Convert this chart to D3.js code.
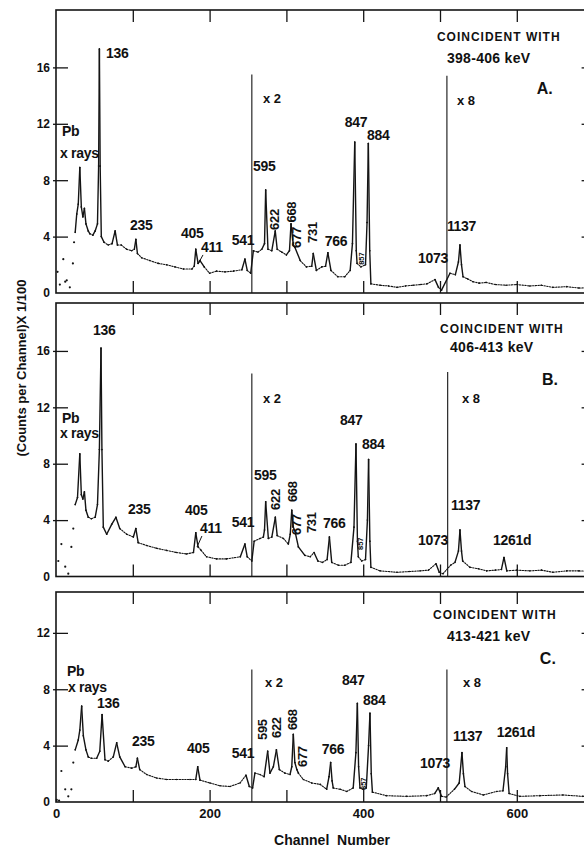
<!DOCTYPE html>
<html><head><meta charset="utf-8">
<script src="https://cdn.jsdelivr.net/npm/d3@7"></script>
<style>
html,body{margin:0;padding:0;background:#fff;}
svg{display:block;}
text{font-family:"Liberation Sans",Arial,sans-serif;fill:#111;}
</style></head><body>
<svg id="chart" width="584" height="848"></svg>
<script>
// ---------- data (channel, counts/100) ----------
const spectrumA = [
[2,1.5],[5,0.6],[9.5,2.4],[12,0.8],[14,0.9],[18,0.4],[22,2.1],[23.5,3.6],[25,4.3],[27,5.6],[29,6.3],[31,8.9],[33,6.1],[35,5.4],[37,6.0],[39,4.9],[42,4.4],[44,4.2],[48,4.1],[51,4.4],[54,4.9],[55.5,9],[56.5,17.3],[57.5,9],[59,4.0],[62.5,3.6],[68,3.4],[73,3.5],[77,4.4],[80,3.4],[85,3.4],[92,3.1],[98.5,3.0],[102,3.1],[104,3.8],[106,2.8],[111.5,2.5],[122,2.3],[133,2.1],[144,2.0],[155,1.85],[166,1.7],[177,1.7],[180,1.9],[182,3.1],[185,2.1],[187.5,2.3],[193,1.85],[200,1.4],[209,1.55],[220,1.5],[231,1.55],[242,1.65],[246,2.4],[249,1.6],[253.5,1.4],
[257,3.0],[263,2.9],[268,3.1],[271.5,3.5],[273,7.3],[276,3.1],[281,3.0],[285.5,4.4],[288,3.1],[294,2.9],[300,2.7],[304,3.0],[306,4.9],[309,3.4],[311,3.25],[318,2.3],[326,1.85],[333,1.9],[335,2.8],[339,1.6],[346,1.85],[351,1.9],[354,2.85],[358,1.6],[367,1.15],[376,1.15],[383,1.6],[386,3.5],[389,10.7],[391,3.0],[392,2.1],[397,1.85],[403,2.0],[405,5],[406.7,10.6],[408.5,3],[410,0.65],[422,0.55],[433,0.5],[444,0.4],[455,0.5],[465,0.55],[475,0.6],[483,0.65],[493.5,0.95],[498,0.4],[502,0.2],
[513,1.4],[520,1.3],[524,2.2],[526,3.4],[528,2.0],[530,1.15],[536,1.0],[543,0.8],[551,0.7],[560,0.75],[572,0.6],[586,0.55],[600,0.6],[617,0.5],[632,0.55],[647,0.4],[665,0.45],[681,0.35],[700,0.4]
];
const spectrumB = [
[3,1.1],[7,2.3],[12,0.7],[16,0.2],[20,2.1],[22.5,3.4],[25,5.1],[28,5.6],[31,8.7],[33,5.8],[35,5.5],[37,6.0],[39,4.7],[42,4.2],[46,4.1],[51,4.2],[54,5.1],[56.5,9],[58.6,16.2],[59.8,9],[61.6,3.5],[66,3.0],[72.5,3.7],[78,4.2],[83,3.4],[92,3.0],[100.7,2.8],[104,3.4],[107,2.4],[118,2.2],[131,2.0],[144,1.85],[157,1.7],[170,1.6],[179,1.7],[182,3.1],[185,2.1],[189,1.85],[196,1.4],[209,1.25],[222,1.25],[240,1.4],[246,2.3],[249,1.4],[255,1.1],
[258,2.5],[265.6,2.7],[270,2.8],[271.5,3.3],[273,5.3],[276.5,2.7],[281,2.8],[285.6,4.2],[288,2.9],[296,2.7],[302.5,2.3],[305,3],[307,4.7],[309,3.5],[311,3.25],[315.6,2.1],[324,1.5],[331,1.4],[336,1.7],[341,1.1],[347,1.0],[353,1.2],[356,2.8],[359,1.0],[367.7,0.8],[376,0.8],[384,1.0],[388,3.5],[390.6,9.4],[392.5,2.5],[393.6,1.4],[398,1.1],[403,1.2],[405.5,4],[407,8.3],[408.7,2.5],[410,0.65],[422,0.4],[444,0.3],[460,0.35],[474,0.4],[485,0.45],[494.8,0.9],[499,0.3],[504,0.2],
[513.8,0.8],[519.5,1.0],[524,1.8],[526,3.3],[528,1.8],[529.5,1.1],[539,0.65],[550,0.55],[560.8,0.4],[572,0.45],[580,0.5],[583.3,1.35],[587,0.4],[600,0.45],[617,0.4],[632,0.45],[647,0.3],[665,0.4],[681,0.4],[700,0.35]
];
const spectrumC = [
[1,0.15],[4,0.1],[7,2.2],[12,0.9],[16,0.4],[20,0.9],[22.5,2.8],[25,3.7],[29,4.4],[31,5.1],[33.4,6.8],[35.6,4.7],[39,3.7],[42,3.2],[46,3.1],[53,3.1],[57,3.6],[60,6.2],[63.8,3.0],[68,2.9],[74.6,3.2],[79,4.2],[83,3.2],[90,2.5],[98.5,2.4],[104,2.5],[106,3.1],[109,2.3],[118,1.95],[131,1.7],[144,1.6],[157,1.6],[174.5,1.6],[182,1.6],[184.5,2.5],[187.5,1.55],[200.5,1.35],[213.5,1.15],[226.6,1.1],[239.6,1.35],[247.4,1.9],[251.7,1.1],[256,1.0],
[259,2.05],[265.6,1.95],[271,1.8],[275.6,3.6],[278.6,2.05],[283,2.5],[287,3.7],[290.8,2.3],[298,2.05],[304.7,1.95],[307,2.5],[309,4.8],[311,2.8],[313.6,2.3],[315.6,2.05],[322,1.6],[333,1.35],[344,1.25],[352.4,0.9],[355.5,1.8],[357.6,2.8],[359.5,1.5],[361,1.0],[370,0.9],[378.5,0.75],[387,1.0],[390.5,3.5],[392.4,7.0],[394,2.5],[395.8,1.0],[400,0.9],[404,1.0],[407,4],[408.8,6.3],[410.5,2],[412,0.7],[430,0.45],[456.6,0.4],[482.6,0.45],[493,0.6],[497.8,1.0],[502,0.4],[508,0.35],
[518.7,0.9],[525,1.35],[528.6,3.5],[530.5,2],[532.5,1.1],[541,0.75],[556.4,0.5],[573.8,0.75],[582,0.8],[585.5,2.5],[586.8,3.85],[588,2],[590,0.6],[604,0.4],[630,0.45],[660,0.5],[686,0.4],[700,0.45]
];
const yMaxes = [20.07, 19.4, 14.9];
const yTicksAB = [0,4,8,12,16];
const yTicksC = [0,4,8,12];
const xTopTicks = [100,200,300,400,500,600];
const xLabelTicks = [0,200,400,600];
const thresholdChannel = 24;   // below this the spectrum is plotted as isolated points
const gainLines = [[255,509],[255,510],[255,509]];       // x2 and x8 channel boundaries
const gainLineTops = [[15.5,15.4],[14.4,14.5],[9.4,9.4]];
const gainLabels = ["x 2","x 8"];
const gainLabelPos = [[[269.5,13.5],[522,13.3]],[[269.5,12.3],[528.6,12.3]],[[272,8.16],[530,8.16]]];
const coincTitles = ["398-406 keV","406-413 keV","413-421 keV"];
const panelLetters = ["A.","B.","C."];
const headerPos = [[[496,17.9],[509,16.3],[626,14.1]],[[500,17.3],[513,15.9],[632.8,13.58]],[[491,13.0],[509,11.4],[630,9.8]]];
// peak labels: text, channel, value (baseline start)
const labelsA = [["136",65,16.7],["Pb",7.8,11.1],["x rays",5.2,9.6],["235",96.4,4.5],["405",162.8,3.9],["411",188.8,2.9],["541",229,3.4],["595",256.5,8.65],["766",350,3.33],["847",376,11.8],["884",405,10.85],["1073",471.4,2.1],["1137",509,4.4]];
const labelsB = [["136",48.2,17.1],["Pb",7.8,10.9],["x rays",5.2,9.8],["235",93.75,4.4],["405",168,4.36],["411",187.5,3.1],["541",229,3.5],["595",257.8,6.84],["766",347.7,3.44],["847",369.8,10.74],["884",398.4,9.04],["1073",471.4,2.23],["1137",514.3,4.7],["1261d",569,2.23]];
const labelsC = [["Pb",14.3,8.94],["x rays",15.6,7.8],["136",53.4,6.67],["235",99,3.97],["405",170.6,3.48],["541",229,3.12],["766",346,3.4],["847",372.4,8.3],["884",399.7,6.88],["1073",474,2.41],["1137",517,4.33],["1261d",574,4.6]];
// rotated labels (read upward)
const rotA = [["622",290,4.47],["668",312.5,5.0],["677",318.4,3.2],["731",340,3.55]];
const rotB = [["622",291.7,4.72],["668",313.8,5.28],["677",319,2.94],["731",338.5,3.08]];
const rotC = [["595",274.7,4.4],["622",293,4.54],["668",313.8,5.1],["677",326.8,2.48]];
const small857 = [[401,2.0],[399.7,1.88],[403.6,0.85]];
const arrows411 = [[[191.4,2.7],[185,2.06]],[[190,2.87],[183.6,2.09]],null];

const spectra = [spectrumA, spectrumB, spectrumC];
const labels = [labelsA, labelsB, labelsC];
const rots = [rotA, rotB, rotC];

// ---------- drawing ----------
const svg = d3.select("#chart");
const ink = "#141414";
const x = d3.scaleLinear().domain([0,700]).range([56,593.6]);
const layout = [{top:10,bottom:293},{top:303,bottom:576.5},{top:592,bottom:802}];

layout.forEach((L,i)=>{
  const y = d3.scaleLinear().domain([0,yMaxes[i]]).range([L.bottom,L.top]);
  const g = svg.append("g");
  const yt = i<2 ? yTicksAB : yTicksC;

  // spectrum: steep (peak) segments solid, background dotted
  const segs = d3.pairs(spectra[i]).filter(([a,b])=>a[0]>=thresholdChannel);
  g.selectAll("line.seg").data(segs).join("line").attr("class","seg")
    .attr("x1",d=>x(d[0][0])).attr("y1",d=>y(d[0][1]))
    .attr("x2",d=>x(d[1][0])).attr("y2",d=>y(d[1][1]))
    .attr("stroke",ink).attr("stroke-linecap","round")
    .each(function(d){
      const dx = Math.abs(x(d[1][0])-x(d[0][0])), dy = Math.abs(y(d[1][1])-y(d[0][1]));
      const steep = dy > 1.3*dx;
      d3.select(this).attr("stroke-width", steep ? 1.4 : 1.1)
        .attr("stroke-dasharray", steep ? null : "1.4,1.3");
    });
  g.selectAll("circle.pt").data(spectra[i]).join("circle").attr("class","pt")
    .attr("cx",d=>x(d[0])).attr("cy",d=>y(d[1])).attr("r",d=>d[0]<thresholdChannel?1.1:0.8).attr("fill",ink);

  // gain-change lines
  gainLines[i].forEach((c,j)=>{
    g.append("line").attr("x1",x(c)).attr("x2",x(c)).attr("y1",y(0)).attr("y2",y(gainLineTops[i][j]))
      .attr("stroke",ink).attr("stroke-width",1.1);
    g.append("text").attr("x",x(gainLabelPos[i][j][0])).attr("y",y(gainLabelPos[i][j][1]))
      .attr("font-size",13).attr("font-weight","bold").text(gainLabels[j]);
  });

  // frame
  g.append("rect").attr("x",x(0)).attr("y",L.top).attr("width",x(700)-x(0)).attr("height",L.bottom-L.top)
    .attr("fill","none").attr("stroke",ink).attr("stroke-width",1.6);

  // left axis
  const la = g.append("g").attr("transform",`translate(${x(0)},0)`)
    .call(d3.axisLeft(y).tickValues(yt).tickSize(-12).tickPadding(6).tickFormat(d3.format("d")));
  la.select(".domain").remove();
  la.selectAll(".tick line").attr("x1",-3).attr("stroke",ink).attr("stroke-width",1.3);
  la.selectAll(".tick").filter(d=>d===0).select("line").remove();
  la.selectAll("text").attr("font-size",12).attr("font-weight","bold").attr("fill",ink)
    .attr("font-family","Liberation Sans, Arial, sans-serif");

  // right axis
  const ra = g.append("g").attr("transform",`translate(${x(700)},0)`)
    .call(d3.axisRight(y).tickValues(yt.filter(v=>v>0)).tickSize(-12).tickFormat(""));
  ra.select(".domain").remove();
  ra.selectAll(".tick line").attr("stroke",ink).attr("stroke-width",1.3);

  // top & bottom inward ticks
  const ta = g.append("g").attr("transform",`translate(0,${L.top})`)
    .call(d3.axisTop(x).tickValues(xTopTicks).tickSize(-12).tickFormat(""));
  ta.select(".domain").remove();
  ta.selectAll(".tick line").attr("stroke",ink).attr("stroke-width",1.3);
  const ba = g.append("g").attr("transform",`translate(0,${L.bottom})`)
    .call(d3.axisBottom(x).tickValues(xTopTicks).tickSize(-12).tickFormat(""));
  ba.select(".domain").remove();
  ba.selectAll(".tick line").attr("stroke",ink).attr("stroke-width",1.3);

  // peak labels
  g.selectAll("text.pk").data(labels[i]).join("text").attr("class","pk")
    .attr("x",d=>x(d[1])).attr("y",d=>y(d[2])).attr("font-size",14).attr("font-weight","bold")
    .attr("letter-spacing",-0.3).text(d=>d[0]);
  g.selectAll("text.rot").data(rots[i]).join("text").attr("class","rot")
    .attr("transform",d=>`translate(${x(d[1])},${y(d[2])}) rotate(-90)`)
    .attr("font-size",13).attr("font-weight","bold").attr("letter-spacing",-0.3).text(d=>d[0]);
  g.append("text").attr("transform",`translate(${x(small857[i][0])},${y(small857[i][1])}) rotate(-90)`)
    .attr("font-size",7.5).attr("font-weight","bold").text("857");
  if (arrows411[i]) {
    const a = arrows411[i];
    g.append("line").attr("x1",x(a[0][0])).attr("y1",y(a[0][1])).attr("x2",x(a[1][0])).attr("y2",y(a[1][1]))
      .attr("stroke",ink).attr("stroke-width",1);
  }

  // header
  const hp = headerPos[i];
  g.append("text").attr("x",x(hp[0][0])).attr("y",y(hp[0][1])).attr("font-size",12).attr("font-weight","bold")
    .attr("letter-spacing",1).text("COINCIDENT WITH");
  g.append("text").attr("x",x(hp[1][0])).attr("y",y(hp[1][1])).attr("font-size",14).attr("font-weight","bold")
    .attr("letter-spacing",0.3).text(coincTitles[i]);
  g.append("text").attr("x",x(hp[2][0])).attr("y",y(hp[2][1])).attr("font-size",16).attr("font-weight","bold")
    .text(panelLetters[i]);

  if (i===2) {
    const xa = g.append("g").attr("transform",`translate(0,${L.bottom})`)
      .call(d3.axisBottom(x).tickValues(xLabelTicks).tickSize(0).tickPadding(7).tickFormat(d3.format("d")));
    xa.select(".domain").remove();
    xa.selectAll("text").attr("font-size",13).attr("font-weight","bold").attr("fill",ink)
      .attr("font-family","Liberation Sans, Arial, sans-serif");
  }
});

// axis titles
svg.append("text").attr("x",332).attr("y",845).attr("text-anchor","middle")
  .attr("font-size",14).attr("font-weight","bold").style("white-space","pre").text("Channel  Number");
svg.append("text").attr("transform","translate(26,368) rotate(-90)").attr("text-anchor","middle")
  .attr("font-size",13).attr("font-weight","bold").text("(Counts per Channel)X 1/100");
</script>
</body></html>
